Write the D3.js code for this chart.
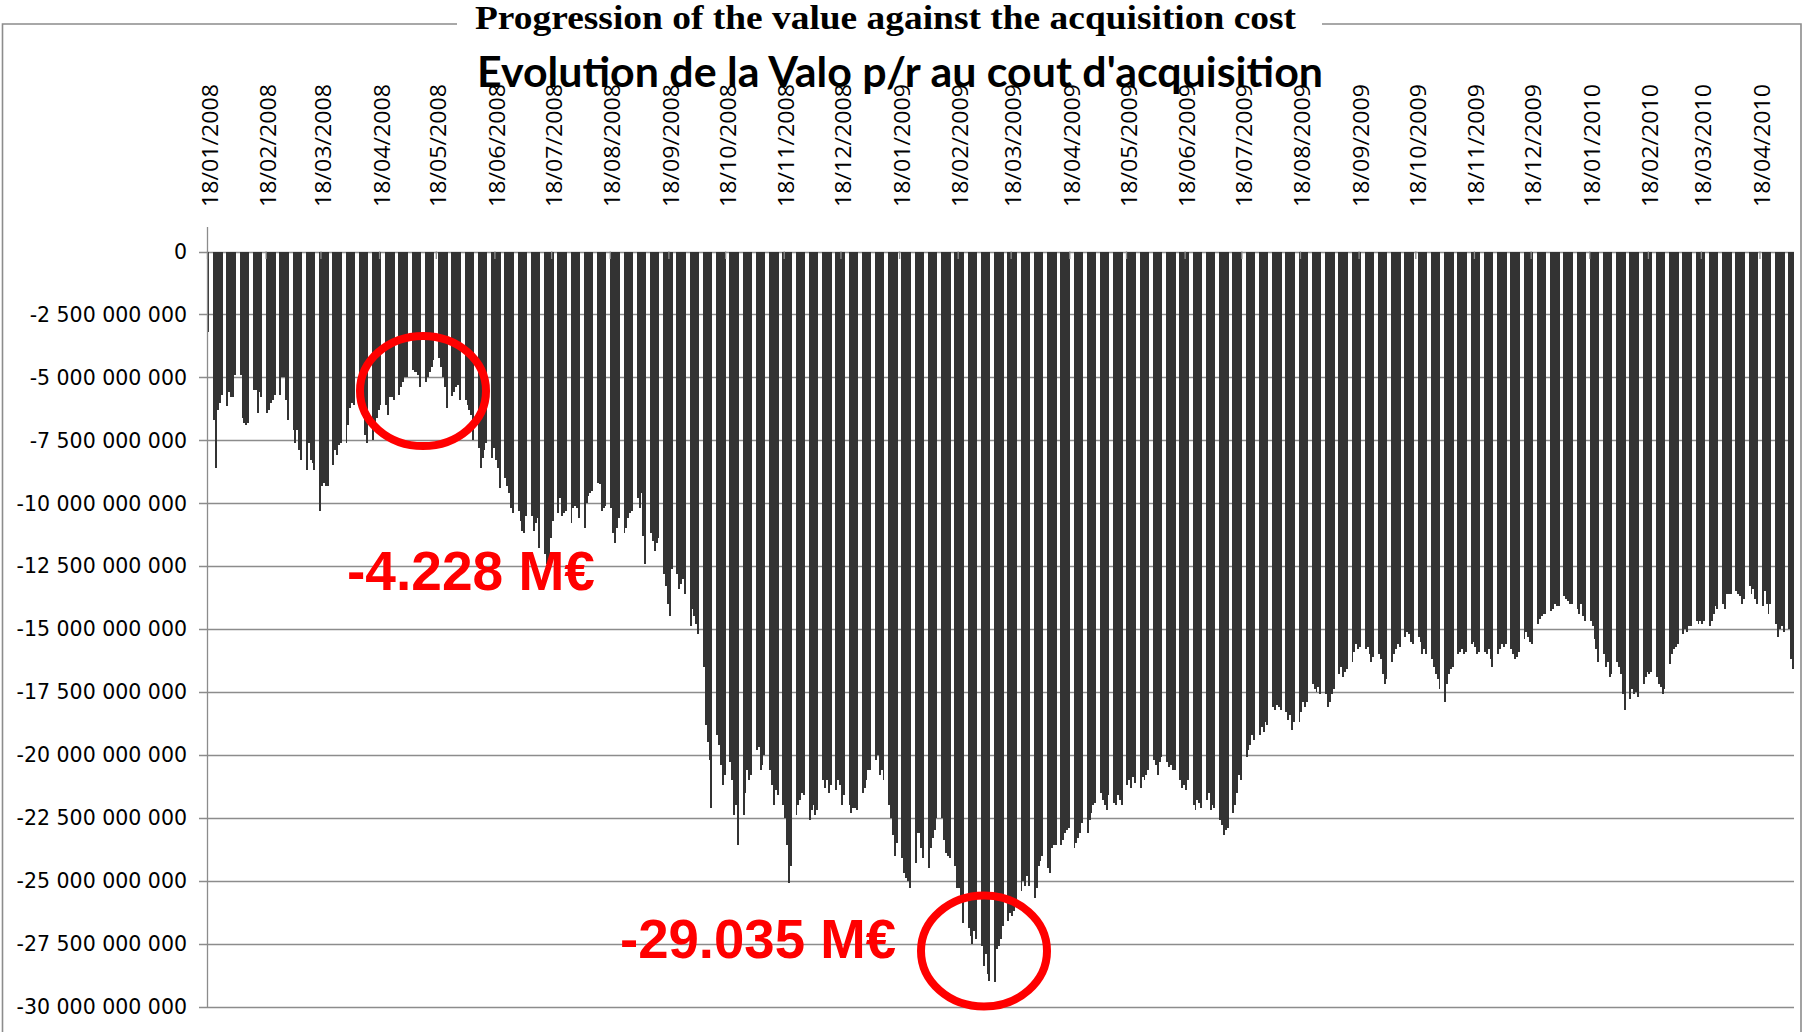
<!DOCTYPE html>
<html>
<head>
<meta charset="utf-8">
<script src="https://cdn.jsdelivr.net/npm/d3@7"></script>
<style>
  body { margin: 0; background: #fff; }
  svg { display: block; }
</style>
</head>
<body>
<div id="chart"></div>
<script>
// first and last trading day of the series (weekdays only)
var firstDay = "18/01/2008";
var lastDay = "05/05/2010";

// valuation minus acquisition cost, in billions, one value per weekday
var valueBn = [
  -3.2,
  -6.7, -8.6, -6.3, -6.0, -5.7,      // jan 21
  -6.15, -5.6, -5.8, -5.8, -4.9,
  -4.9, -6.6, -6.8, -6.9, -6.8,
  -5.5, -5.5, -6.4, -5.6, -5.8,
  -6.4, -6.3, -6.0, -5.9, -5.7,      // feb 18
  -5.7, -5.0, -5.0, -5.9, -6.7,
  -7.1, -7.6, -7.1, -7.9, -8.3,
  -8.7, -7.6, -8.3, -8.4, -8.7,
  -10.3, -9.3, -9.2, -9.3, -9.3,     // mar 17
  -8.5, -7.9, -8.1, -7.7, -7.6,
  -7.6, -6.9, -6.2, -6.0, -6.1,
  -6.1, -6.0, -6.6, -7.3, -7.6,
  -7.5, -6.8, -6.6, -6.3, -6.1,      // apr 14
  -6.1, -6.5, -5.8, -5.8, -5.9,
  -5.7, -5.4, -5.2, -5.0, -5.0,
  -4.7, -4.8, -4.8, -4.9, -5.4,
  -5.2, -5.0, -4.8, -4.6, -4.3,      // may 12
  -4.228, -4.6, -5.0, -5.4, -6.2,
  -5.75, -5.6, -5.4, -5.3, -5.9,
  -5.9, -6.1, -6.3, -6.5, -7.5,
  -7.8, -8.6, -8.2, -7.9, -7.6,      // jun 9
  -8.2, -7.8, -8.3, -8.6, -9.4,
  -9.0, -9.3, -9.6, -10.2, -10.4,
  -10.3, -10.7, -11.1, -11.2, -10.5,
  -10.5, -11.1, -10.8, -10.6, -11.8, // jul 7
  -12.0, -12.4, -12.2, -11.4, -10.7,
  -10.4, -9.8, -10.5, -10.4, -10.3,
  -10.8, -10.2, -10.1, -10.2, -10.6,
  -11.0, -10.0, -9.7, -9.6, -9.5,    // aug 4
  -9.2, -9.25, -10.3, -10.2, -10.1,
  -10.2, -11.2, -11.6, -11.0, -10.6,
  -11.2, -11.0, -10.6, -10.4, -10.3,
  -9.8, -10.2, -9.6, -11.3, -12.4,   // sep 1
  -11.2, -11.5, -11.9, -11.6, -11.4,
  -12.8, -13.3, -14.0, -14.5, -12.6,
  -12.8, -13.4, -13.2, -13.0, -13.6,
  -14.9, -14.2, -14.5, -14.8, -15.2, // sep 29
  -16.5, -18.8, -19.5, -20.2, -22.1,
  -19.2, -19.6, -20.4, -21.2, -20.8,
  -20.3, -21.0, -22.4, -22.0, -23.6,
  -22.4, -21.5, -20.6, -21.0, -20.8, // oct 27
  -19.8, -19.7, -20.6, -20.4, -20.0,
  -20.6, -21.2, -22.0, -21.4, -21.6,
  -22.0, -22.5, -23.6, -25.1, -24.4,
  -22.4, -22.0, -21.8, -21.5, -21.6, // nov 24
  -22.6, -22.2, -22.0, -22.4, -22.2,
  -21.0, -21.3, -21.0, -21.5, -21.2,
  -21.4, -21.0, -21.2, -22.0, -21.6,
  -22.0, -22.3, -22.1, -22.1, -22.2, // dec 22
  -21.5, -21.3, -21.0, -20.6, -20.6,
  -20.2, -20.0, -20.8, -20.6, -21.0,
  -22.0, -22.5, -23.2, -24.0, -23.5,
  -24.1, -24.7, -24.9, -25.0, -25.3, // jan 19 2009
  -24.3, -23.1, -23.1, -23.7, -24.1,
  -24.5, -23.7, -23.3, -23.0, -22.5,
  -22.5, -23.4, -23.9, -24.0, -24.1,
  -24.4, -25.3, -25.3, -25.8, -26.7, // feb 16
  -26.9, -27.2, -27.5, -27.0, -27.3,
  -27.6, -28.4, -27.9, -28.7, -29.0,
  -29.035, -27.7, -27.6, -27.3, -26.8,
  -26.6, -26.3, -26.4, -26.2, -25.9, // mar 16
  -25.4, -25.0, -25.2, -24.8, -25.2,
  -25.7, -25.3, -24.4, -24.2, -24.0,
  -24.5, -24.7, -23.7, -23.6, -23.6,
  -23.6, -23.4, -23.1, -23.0, -22.9, // apr 13
  -23.7, -23.5, -23.3, -23.1, -22.7,
  -23.1, -22.6, -22.3, -22.0, -21.9,
  -21.5, -21.8, -22.0, -22.2, -21.6,
  -21.9, -22.0, -21.6, -21.8, -22.0, // may 11
  -21.2, -21.0, -21.3, -20.9, -21.1,
  -21.3, -20.9, -21.0, -20.8, -20.6,
  -20.2, -20.4, -20.8, -20.3, -20.1,
  -20.3, -20.5, -20.4, -20.6, -20.6, // jun 8
  -21.0, -21.3, -21.2, -21.4, -21.0,
  -22.0, -22.2, -21.8, -21.9, -22.1,
  -21.8, -21.5, -22.2, -22.0, -22.1,
  -22.6, -22.8, -23.2, -23.0, -22.9, // jul 6
  -22.3, -22.0, -21.5, -20.8, -21.0,
  -20.1, -19.8, -19.6, -19.2, -19.4,
  -19.2, -18.9, -19.1, -18.7, -18.8,
  -18.1, -18.2, -18.0, -18.1, -18.2, // aug 3
  -18.3, -18.6, -18.4, -19.0, -18.7,
  -18.7, -18.3, -17.9, -18.1, -17.9,
  -17.2, -17.4, -17.5, -17.3, -17.6,
  -17.6, -18.1, -17.9, -17.6, -17.4, // aug 31
  -16.8, -16.5, -16.9, -16.7, -16.6,
  -16.3, -15.9, -15.6, -15.8, -15.7,
  -15.8, -15.7, -16.0, -16.3, -16.1,
  -16.0, -16.2, -16.8, -17.2, -17.0, // sep 28
  -16.3, -16.0, -15.8, -15.6, -15.7,
  -15.3, -15.1, -15.2, -15.5, -15.6,
  -15.3, -15.5, -16.0, -15.8, -16.0,
  -16.2, -16.5, -16.8, -17.0, -17.4, // oct 26
  -17.9, -17.2, -16.8, -16.6, -16.5,
  -16.0, -15.9, -15.8, -16.0, -15.9,
  -15.6, -15.5, -15.7, -16.0, -15.9,
  -15.9, -16.0, -15.8, -16.2, -16.5, // nov 23
  -16.0, -15.8, -15.6, -15.7, -15.6,
  -15.8, -16.0, -16.2, -16.1, -15.9,
  -15.4, -15.1, -15.3, -15.5, -15.6,
  -14.8, -14.6, -14.5, -14.4, -14.4, // dec 21
  -14.3, -14.2, -14.0, -14.1, -14.1,
  -13.7, -13.8, -13.9, -14.0, -14.0,
  -14.2, -14.4, -14.0, -14.5, -14.7,
  -14.7, -14.9, -15.4, -15.8, -16.3, // jan 18 2010
  -16.0, -16.5, -16.3, -16.9, -16.8,
  -16.3, -16.5, -16.8, -17.6, -18.2,
  -17.8, -17.4, -17.6, -17.5, -17.7,
  -17.2, -16.9, -16.7, -16.8, -16.7, // feb 15
  -16.9, -17.2, -17.3, -17.6, -17.4,
  -16.4, -16.0, -15.8, -15.7, -15.6,
  -15.2, -15.0, -15.1, -14.9, -14.9,
  -14.7, -14.8, -14.7, -14.8, -14.7, // mar 15
  -14.9, -14.7, -14.4, -14.1, -14.2,
  -14.0, -14.2, -13.6, -13.6, -13.6,
  -13.5, -13.6, -13.7, -14.0, -13.8,
  -13.3, -13.6, -13.4, -13.8, -14.0, // apr 12
  -14.1, -13.5, -14.0, -14.4, -14.0,
  -14.8, -15.3, -15.0, -14.9, -15.1,
  -15.0, -16.2, -16.6
];

// y axis ticks
var yTicks = [0, -2.5e9, -5e9, -7.5e9, -10e9, -12.5e9, -15e9, -17.5e9,
              -20e9, -22.5e9, -25e9, -27.5e9, -30e9];

// x axis labels (one each month)
var xTickLabels = [
  "18/01/2008", "18/02/2008", "18/03/2008", "18/04/2008", "18/05/2008",
  "18/06/2008", "18/07/2008", "18/08/2008", "18/09/2008", "18/10/2008",
  "18/11/2008", "18/12/2008", "18/01/2009", "18/02/2009", "18/03/2009",
  "18/04/2009", "18/05/2009", "18/06/2009", "18/07/2009", "18/08/2009",
  "18/09/2009", "18/10/2009", "18/11/2009", "18/12/2009", "18/01/2010",
  "18/02/2010", "18/03/2010", "18/04/2010"
];

var titleEn = "Progression of the value against the acquisition cost";
var titleFr = "Evolution de la Valo p/r au cout d'acquisition";
var noteHigh = "-4.228 M€";
var noteLow = "-29.035 M€";

function init() {
    var w = 1803;
    var h = 1032;
    var parseDay = d3.utcParse("%d/%m/%Y");

    // build weekday dates and pair them with the values
    var start = parseDay(firstDay);
    var end = parseDay(lastDay);
    var days = d3.utcDay.range(start, d3.utcDay.offset(end, 1))
                .filter(function(d) { return d.getUTCDay() !== 0 && d.getUTCDay() !== 6; });
    var data = days.map(function(d, i) {
        return { date: d, value: valueBn[i] * 1e9 };
    });

    var svg = d3.select("#chart")
                .append("svg")
                .attr("width", w)
                .attr("height", h)
                .style("background", "#fff");

    //scales
    var x = d3.scaleUtc()
                .domain([d3.utcHour.offset(start, -12), d3.utcHour.offset(end, 12)])
                .range([207.5, 1794]);
    var y = d3.scaleLinear()
                .domain([-30e9, 0])
                .range([1006.5, 251.5]);
    var dayW = x(d3.utcDay.offset(start, 1)) - x(start);

    var fmt = d3.formatLocale({
        decimal: ",", thousands: " ", grouping: [3], currency: ["", ""], minus: "-"
    }).format(",");

    //outer chart frame, broken by the first title
    svg.append("path")
        .attr("d", "M457,24H2.5V1032M1322,24H1801V1032")
        .attr("fill", "none")
        .attr("stroke", "#8c8c8c")
        .attr("stroke-width", 1.6);

    //gridlines and y ticks
    svg.append("g")
        .selectAll("line")
        .data(yTicks)
        .enter()
        .append("line")
        .attr("x1", 199)
        .attr("x2", 1794)
        .attr("y1", function(d) { return Math.round(y(d)) + 0.5; })
        .attr("y2", function(d) { return Math.round(y(d)) + 0.5; })
        .attr("stroke", "#8c8c8c")
        .attr("stroke-width", 1.3);

    svg.append("g")
        .selectAll("text")
        .data(yTicks)
        .enter()
        .append("text")
        .attr("x", 187)
        .attr("y", function(d) { return y(d); })
        .attr("dy", "0.36em")
        .attr("text-anchor", "end")
        .style("font-family", "'DejaVu Sans', Verdana, sans-serif")
        .style("font-size", "20.5px")
        .style("fill", "#000")
        .text(function(d) { return fmt(d); });

    //bars
    svg.append("g")
        .attr("shape-rendering", "crispEdges")
        .selectAll("rect")
        .data(data)
        .enter()
        .append("rect")
        .attr("x", function(d) { return x(d.date) - dayW / 2; })
        .attr("width", dayW)
        .attr("y", y(0))
        .attr("height", function(d) { return y(d.value) - y(0); })
        .attr("fill", "#333333");

    //y axis line
    svg.append("line")
        .attr("x1", 207.5).attr("x2", 207.5)
        .attr("y1", 227).attr("y2", 1007)
        .attr("stroke", "#8c8c8c")
        .attr("stroke-width", 1.3);

    //month ticks on the zero line
    var tickDates = xTickLabels.map(parseDay);
    svg.append("g")
        .selectAll("line")
        .data(tickDates)
        .enter()
        .append("line")
        .attr("x1", function(d) { return x(d) - dayW / 2; })
        .attr("x2", function(d) { return x(d) - dayW / 2; })
        .attr("y1", 251.5)
        .attr("y2", 259)
        .attr("stroke", "#8c8c8c")
        .attr("stroke-width", 1.3);

    //rotated date labels
    svg.append("g")
        .selectAll("text")
        .data(tickDates)
        .enter()
        .append("text")
        .attr("transform", function(d) {
            return "translate(" + (x(d) + 1.5) + ",207) rotate(-90)";
        })
        .attr("dy", "0.36em")
        .attr("textLength", 123)
        .attr("lengthAdjust", "spacingAndGlyphs")
        .style("font-family", "'Open Sans', sans-serif")
        .style("font-size", "21px")
        .style("fill", "#000")
        .text(function(d, i) { return xTickLabels[i]; });

    //titles
    svg.append("text")
        .attr("x", 475)
        .attr("y", 29)
        .attr("textLength", 821)
        .attr("lengthAdjust", "spacingAndGlyphs")
        .style("font-family", "'Liberation Serif', 'Times New Roman', serif")
        .style("font-weight", "bold")
        .style("font-size", "34px")
        .text(titleEn);

    svg.append("text")
        .attr("x", 477)
        .attr("y", 87)
        .attr("textLength", 846)
        .attr("lengthAdjust", "spacingAndGlyphs")
        .style("font-family", "Lato, 'Open Sans', sans-serif")
        .style("font-weight", "bold")
        .style("font-size", "42px")
        .text(titleFr);

    //red annotations
    svg.append("ellipse")
        .attr("cx", 423).attr("cy", 391)
        .attr("rx", 63).attr("ry", 55)
        .attr("fill", "none")
        .attr("stroke", "#ff0000")
        .attr("stroke-width", 8);

    svg.append("ellipse")
        .attr("cx", 984).attr("cy", 951)
        .attr("rx", 63).attr("ry", 55.5)
        .attr("fill", "none")
        .attr("stroke", "#ff0000")
        .attr("stroke-width", 8);

    svg.append("text")
        .attr("x", 347)
        .attr("y", 590)
        .attr("textLength", 248)
        .attr("lengthAdjust", "spacingAndGlyphs")
        .style("font-family", "'Liberation Sans', Arial, sans-serif")
        .style("font-weight", "bold")
        .style("font-size", "55px")
        .style("fill", "#ff0000")
        .text(noteHigh);

    svg.append("text")
        .attr("x", 620)
        .attr("y", 958)
        .attr("textLength", 276)
        .attr("lengthAdjust", "spacingAndGlyphs")
        .style("font-family", "'Liberation Sans', Arial, sans-serif")
        .style("font-weight", "bold")
        .style("font-size", "55px")
        .style("fill", "#ff0000")
        .text(noteLow);
}

window.onload = init;
</script>
</body>
</html>
